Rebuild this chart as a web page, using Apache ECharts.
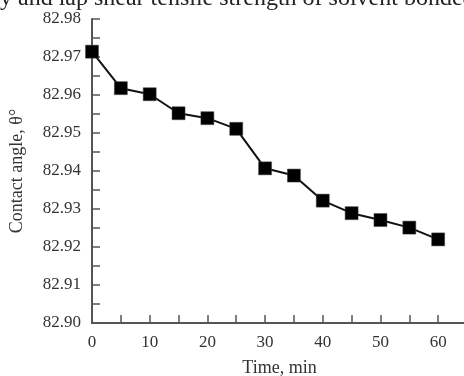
<!DOCTYPE html>
<html>
<head>
<meta charset="utf-8">
<script src="https://cdn.jsdelivr.net/npm/echarts@6/dist/echarts.min.js"></script>
<style>
  html, body { margin: 0; padding: 0; background: #fff; }
  #main { width: 464px; height: 376px; }
</style>
</head>
<body>
<div id="main"></div>
<script>
// data
var times = [0, 5, 10, 15, 20, 25, 30, 35, 40, 45, 50, 55, 60];
var contactAngle = [82.9714, 82.9618, 82.9602, 82.9552, 82.9539, 82.9511, 82.9407, 82.9388, 82.9322, 82.9289, 82.9271, 82.9251, 82.9220];
var caption = "y and lap shear tensile strength of solvent bonded";

var serif = "Liberation Serif";
var axisColor = "#555";
var textColor = "#333";

var chart = echarts.init(document.getElementById("main"));
chart.setOption({
  animation: false,
  title: {
    text: caption,
    left: 0,
    top: -13,
    padding: 0,
    textStyle: { fontFamily: serif, fontSize: 24, fontWeight: "normal", color: "#222" }
  },
  grid: { left: 92, right: -3, top: 19, bottom: 53, outerBoundsMode: "none", containLabel: false },
  xAxis: {
    type: "value",
    min: 0,
    max: 65,
    interval: 5,
    name: "Time, min",
    nameLocation: "middle",
    nameGap: 36,
    nameTextStyle: { fontFamily: serif, fontSize: 18, color: textColor },
    splitLine: { show: false },
    axisLine: { lineStyle: { color: axisColor, width: 2 } },
    axisTick: { inside: true, length: 8, lineStyle: { color: axisColor, width: 1.5 } },
    axisLabel: {
      fontFamily: serif, fontSize: 17, color: textColor, margin: 11,
      formatter: function (v) { return v % 10 === 0 && v <= 60 ? String(v) : ""; }
    }
  },
  yAxis: {
    type: "value",
    min: 82.90,
    max: 82.98,
    interval: 0.005,
    name: "Contact angle, θ°",
    nameLocation: "middle",
    nameGap: 66,
    nameTextStyle: { fontFamily: serif, fontSize: 18, color: textColor },
    splitLine: { show: false },
    axisLine: { show: true, lineStyle: { color: axisColor, width: 2 } },
    axisTick: { show: true, inside: true, length: 8, lineStyle: { color: axisColor, width: 1.5 } },
    axisLabel: {
      fontFamily: serif, fontSize: 17, color: textColor, margin: 11,
      formatter: function (v) {
        return Math.round(v * 1000) % 10 === 0 ? v.toFixed(2) : "";
      }
    }
  },
  series: [{
    type: "line",
    data: times.map(function (t, i) { return [t, contactAngle[i]]; }),
    symbol: "rect",
    symbolSize: 13,
    lineStyle: { color: "#111", width: 2 },
    itemStyle: { color: "#000", borderColor: "#444", borderWidth: 0.5 }
  }]
});
</script>
</body>
</html>
